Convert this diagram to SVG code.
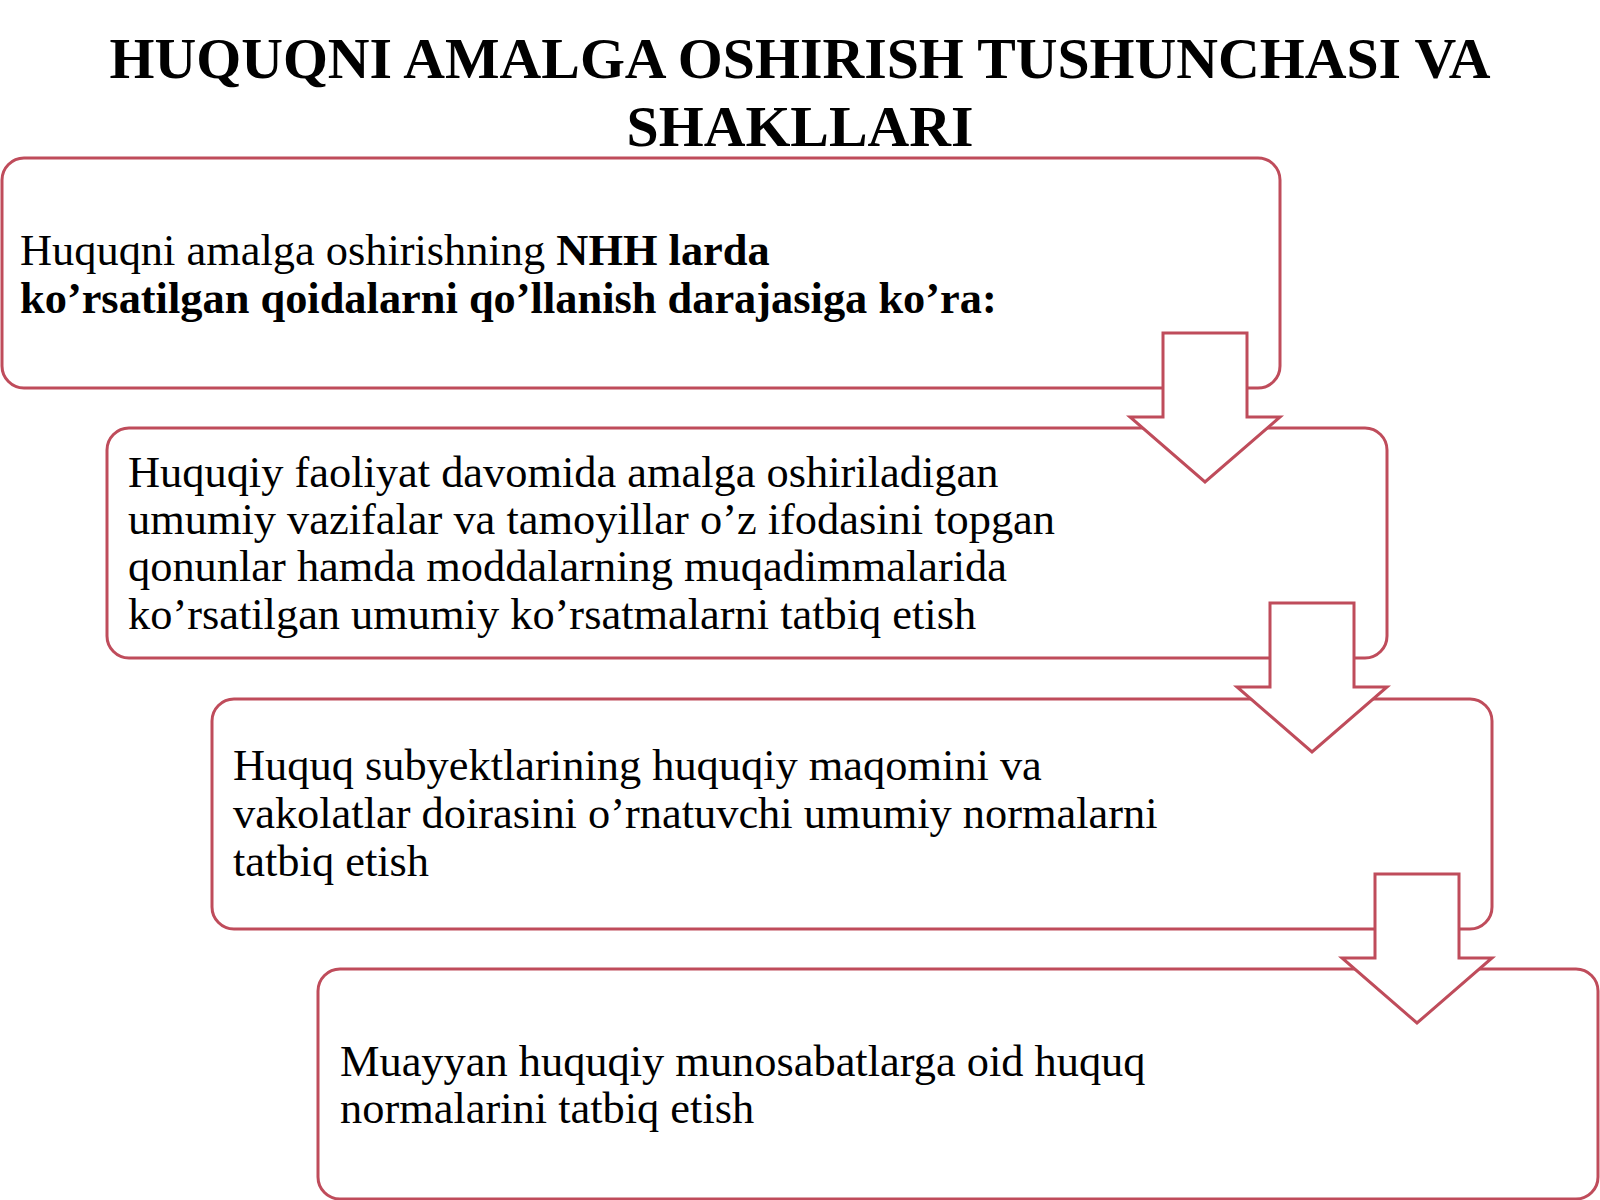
<svg xmlns="http://www.w3.org/2000/svg" width="1600" height="1200" viewBox="0 0 1600 1200">
<style>
.box{fill:#ffffff;stroke:#BF4C5B;stroke-width:3}
.arr{fill:#ffffff;stroke:#BF4C5B;stroke-width:3;stroke-linejoin:miter}
.title{font-family:"Liberation Serif","Times New Roman",serif;font-weight:bold;font-size:57.8px;fill:#000}
.t{font-family:"Liberation Serif","Times New Roman",serif;font-size:44.4px;fill:#000}
.b{font-weight:bold}
</style>
<rect width="1600" height="1200" fill="#ffffff"/>
<g id="title">
<text class="title" x="800" y="78" text-anchor="middle">HUQUQNI AMALGA OSHIRISH TUSHUNCHASI VA</text>
<text class="title" x="800" y="146" text-anchor="middle">SHAKLLARI</text>
</g>
<g id="node1">
<rect class="box" x="2" y="158" width="1278" height="230" rx="22"/>
<text class="t" x="20" y="265">Huquqni amalga oshirishning <tspan class="b">NHH larda</tspan></text>
<text class="t b" x="20" y="313">ko’rsatilgan qoidalarni qo’llanish darajasiga ko’ra:</text>
</g>
<g id="node2">
<rect class="box" x="107" y="428" width="1280" height="230" rx="22"/>
<text class="t" x="128" y="487">Huquqiy faoliyat davomida amalga oshiriladigan</text>
<text class="t" x="128" y="534">umumiy vazifalar va tamoyillar o’z ifodasini topgan</text>
<text class="t" x="128" y="581">qonunlar hamda moddalarning muqadimmalarida</text>
<text class="t" x="128" y="629">ko’rsatilgan umumiy ko’rsatmalarni tatbiq etish</text>
</g>
<g id="node3">
<rect class="box" x="212" y="699" width="1280" height="230" rx="22"/>
<text class="t" x="233" y="780">Huquq subyektlarining huquqiy maqomini va</text>
<text class="t" x="233" y="828">vakolatlar doirasini o’rnatuvchi umumiy normalarni</text>
<text class="t" x="233" y="876">tatbiq etish</text>
</g>
<g id="node4">
<rect class="box" x="318" y="969" width="1280" height="230" rx="22"/>
<text class="t" x="340" y="1076">Muayyan huquqiy munosabatlarga oid huquq</text>
<text class="t" x="340" y="1123">normalarini tatbiq etish</text>
</g>
<g id="connectors">
<polygon class="arr" points="1163,333 1247,333 1247,417 1280,417 1205,482 1130,417 1163,417"/>
<polygon class="arr" points="1270,603 1354,603 1354,687 1387,687 1312,752 1237,687 1270,687"/>
<polygon class="arr" points="1375,874 1459,874 1459,958 1492,958 1417,1023 1342,958 1375,958"/>
</g>
</svg>
